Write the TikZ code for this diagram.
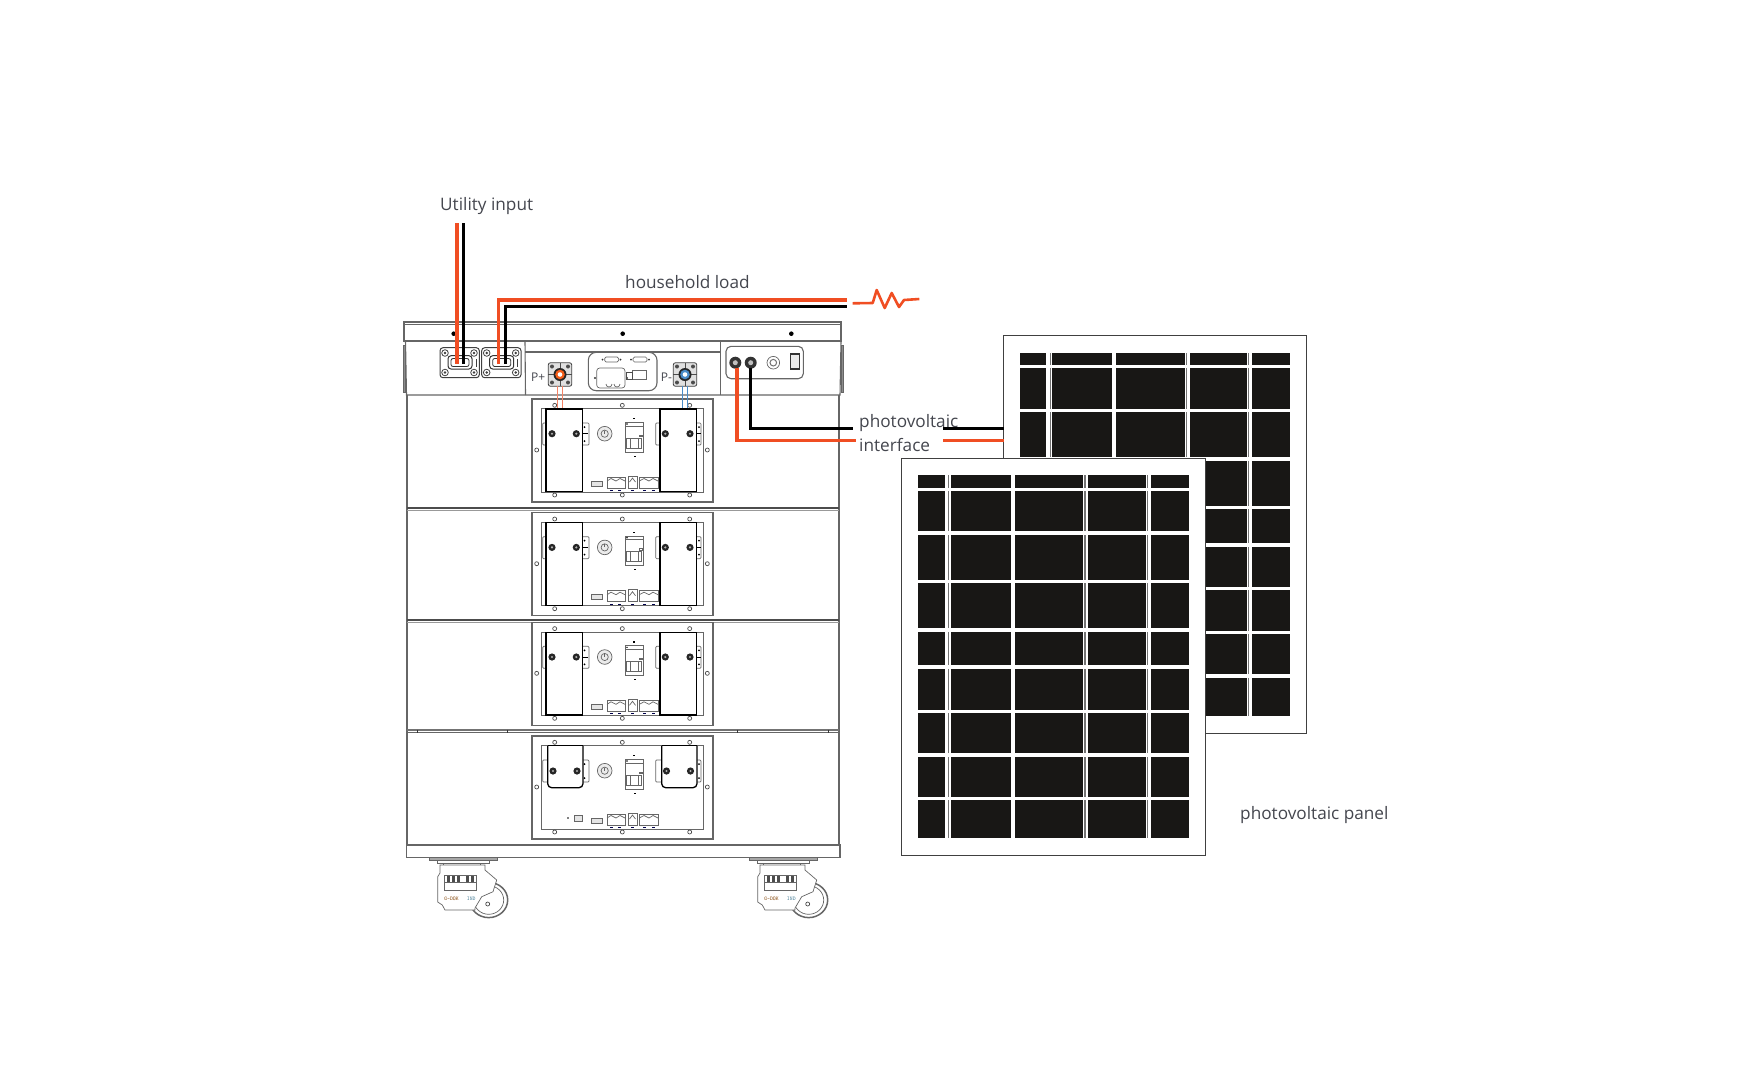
\documentclass[tikz,border=0pt]{standalone}
\usepackage{fontspec}
\setmainfont{Open Sans}
\definecolor{wirered}{HTML}{F04E23}
\definecolor{wireblue}{HTML}{4A8CC8}
\definecolor{linegray}{HTML}{666666}
\definecolor{cellblack}{HTML}{181715}
\definecolor{labcol}{HTML}{44464E}
\tikzset{
  lab/.style={anchor=base west,inner sep=0pt,text=labcol,font=\fontsize{17.2}{20}\selectfont},
  tiny lab/.style={anchor=base west,inner sep=0pt,text=#1,font=\ttfamily\fontsize{5.5}{6}\selectfont},
  hull/.style={draw=linegray,line width=1.1pt},
  fine/.style={draw=linegray,line width=0.7pt},
  handle/.style={draw=black,line width=1.3pt,fill=white},
  redwire/.style={draw=wirered,line width=3.2pt},
  blackwire/.style={draw=black,line width=3pt}
}
% screw ring
\newcommand{\ring}[2]{\draw[draw=black!70,line width=0.7pt,fill=white] (#1,#2) circle (2);}
\newcommand{\bolt}[2]{\fill[black!85] (#1,#2) circle (3.6); \fill[white!70!black] (#1,#2) circle (1.2);}
% plate of one battery module, #1 is its top edge
\newcommand{\moduleplate}[1]{
  \begin{scope}[shift={(0,#1)}]
    \draw[hull] (532,0) rectangle (713,103);
    \draw[fine] (541.5,9.7) rectangle (703,93);
    \foreach \xs in {554.7,622.3,689.7} {\ring{\xs}{6.3} \ring{\xs}{96}}
    \ring{536.7}{51} \ring{707.3}{51}
    \draw[fine,fill=white,rounded corners=1pt] (542.7,24) rectangle (589,46); \draw[fine,fill=white,rounded corners=1pt] (655.7,24) rectangle (701,46);
    \foreach \xs in {584.5,699} {\fill[black] (\xs,28) circle (1); \fill[black] (\xs,42) circle (1);}
    \draw[fine,fill=white!92!black] (604.7,34.7) circle (7.3); \draw[fine] (604.7,34.7) circle (3.6);
    \draw[fine] (604.7,31.5) -- (604.7,34.7);
    % breaker
    \draw[fine,fill=white] (625,23.3) rectangle (643.3,53);
    \draw[fine] (625,27) -- (643.3,27); \draw[fine] (626.5,39) -- (641.5,39) -- (641.5,49) -- (626.5,49) -- cycle; \draw[fine] (630,39) rectangle (638,49);
    \fill[black] (627,25) circle (0.8); \draw[fine] (639,36) rectangle (642,37.5);
    \fill[black] (632.5,19) rectangle (634.5,20.2); \fill[black] (633.5,56.5) rectangle (636,57.7);
    % ports
    \draw[fine,fill=black!10] (591.7,82) rectangle (602.7,87);
    \draw[fine] (607,78) rectangle (625,89); \draw[fine] (607,82) -- (611,79.5) -- (616,82) -- (620,79.5) -- (625,82);
    \draw[fine] (628,77) rectangle (637,89); \draw[fine] (629.5,83) -- (632.5,79) -- (635.5,83);
    \draw[fine] (639.3,78) rectangle (658,89); \draw[fine] (639.3,82) -- (644,79.5) -- (649,82) -- (653,79.5) -- (658,82);
    \foreach \xs in {611,619,632.5,644.5,653} {\fill[black!70!blue] (\xs-1.5,91) rectangle (\xs+1.5,92);}
  \end{scope}
}
\newcommand{\tallhandles}[1]{
  \begin{scope}[shift={(0,#1)}]
    \draw[handle] (546,10) rectangle (582.3,92.7); \draw[handle] (660,10) rectangle (696.3,92.7);
    \draw[black,line width=1pt] (582.3,34.7) -- (588,34.7); \draw[black,line width=1pt] (696.3,34.7) -- (701,34.7);
    \bolt{552}{34.7} \bolt{576.3}{34.7} \bolt{665.3}{34.7} \bolt{690}{34.7}
  \end{scope}
}
% panel of cells, #1 #2 is its top left corner
\newcommand{\pvpanel}[2]{
  \begin{scope}[shift={(#1,#2)}]
    \draw[fill=white,draw=black!75,line width=0.9pt] (0,0) rectangle (303.6,397.4);
    \foreach \ya/\yb in {16.9/29.7,32.8/73.3,76.7/121.7,125.2/170,173.5/207.4,210.9/251.7,254.6/295.4,298.6/338.7,342.2/380.2} {
      \foreach \xa/\xb in {16.7/43.3,49/109,113.3/181.7,186.7/244,249/287}
        \fill[cellblack] (\xa,\ya) rectangle (\xb,\yb);
      \foreach \xa/\xb in {46.7/47.7,182.5/184,245/246.2}
        \fill[black!55] (\xa,\ya) rectangle (\xb,\yb);
    }
  \end{scope}
}
% caster, #1 is the shift along x
\newcommand{\caster}[1]{
  \begin{scope}[shift={(#1,0)}]
    \draw[fine,fill=black!35] (429,857.7) rectangle (497.7,860.5);
    \draw[fine] (437.3,860.5) -- (437.3,863) -- (489.3,863) -- (489.3,860.5);
    \draw[fine] (443,863) -- (443,868); \draw[fine] (480,863) -- (480,868);
    \draw[fill=white,draw=black!60,line width=1.5pt] (488.7,900) ellipse (19 and 17.6);
    \draw[fine] (488.7,900) ellipse (15 and 14.3);
    \draw[fine,fill=white] (437.7,876.7) -- (440,873) -- (440,865) -- (485,865) -- (485,870) -- (496.7,880) -- (493,891.7) -- (481.7,896.7) -- (475,908) -- (475,910) -- (445,910) -- (442.3,905) -- (437.7,902) -- cycle;
    \ring{487.7}{904}
    \draw[linegray,line width=1pt,fill=white] (444.3,875) rectangle (476.7,890);
    \draw[fine] (444.3,882.5) -- (476.7,882.5);
    \foreach \xs in {447,452,457,466,471} {\fill[black!70] (\xs,876) rectangle (\xs+3,882);}
    \node[tiny lab=black!50!orange] (gdok#1) at (444,900.5) {G-DOK};
    \node[tiny lab=black!45!cyan] (ind#1) at (466.7,900.5) {IND};
  \end{scope}
}
\newcommand{\acplug}[1]{
  \begin{scope}[shift={(#1,0)}]
    \draw[draw=black!75,line width=1pt,rounded corners=3pt,fill=white] (0,347.7) rectangle (39.3,377.7);
    \foreach \xs/\ys in {5/353,34/353,5/372.5,34/372.5} {\draw[draw=black!75,line width=0.8pt] (\xs,\ys) circle (3.3); \fill[black!75] (\xs,\ys) circle (1.4);}
    \draw[draw=black!80,line width=1pt,rounded corners=3pt] (8,355.7) rectangle (32,369);
    \draw[draw=black!80,line width=0.8pt,rounded corners=2pt] (11,358.5) rectangle (29,366.5);
    \draw[draw=black!75,line width=1pt] (36,359) -- (36,367);
  \end{scope}
}
\newcommand{\pplug}[2]{
  \begin{scope}[shift={(#1,374.5)}]
    \draw[draw=black!75,line width=0.8pt,rounded corners=2pt,fill=black!12] (-11.7,-11.7) rectangle (11.7,11.7);
    \foreach \xs/\ys in {-8/-8,8/-8,-8/8,8/8} {\fill[black!70] (\xs,\ys) circle (2);}
    \draw[draw=black!70,line width=0.8pt] (-11.7,0) -- (11.7,0); \draw[draw=black!70,line width=0.8pt] (0,-11.7) -- (0,11.7);
    \fill[black!85] (0,0) circle (6.5); \fill[#2] (0,0) circle (4.8); \fill[white] (0,0) circle (2.3);
  \end{scope}
}
\begin{document}
\begin{tikzpicture}[x=1pt,y=-1pt]
  \useasboundingbox (0,0) rectangle (1764,1080);

  % Cabinet
  \draw[fine,fill=black!45] (403,345) -- (405.5,345) -- (405.5,392) -- (403,392) -- cycle;
  \draw[fine,fill=black!45] (841,345) -- (843.5,345) -- (843.5,392) -- (841,392) -- cycle;
  \draw[hull] (404,322) rectangle (841,341);
  \draw[hull] (404,324.5) -- (841,324.5);
  \draw[hull] (405.5,341) -- (406.5,395) -- (840,395) -- (841,341);
  \draw[hull] (525,341) -- (525.5,395); \draw[hull] (720.3,341) -- (720.3,395);
  \draw[hull] (525,352) -- (720.3,352);
  \foreach \xs in {453.7,622.7,791.3} {\fill[black] (\xs,333.7) circle (2.3);}
  \draw[hull] (407,395) -- (407,845); \draw[hull] (839,395) -- (839,845);
  \foreach \ys in {508,620} {\draw[draw=black!70,line width=1.6pt] (407,\ys) -- (839,\ys); \draw[fine,draw=black!40] (407,\ys+2) -- (839,\ys+2);}
  \draw[draw=black!55,line width=1.3pt] (407,730) -- (839,730); \draw[fine] (407,732.5) -- (839,732.5);
  \foreach \xs in {417,507.5,737,828} {\draw[draw=black!80,line width=0.8pt] (\xs,729.5) -- (\xs,732.5);}
  \draw[linegray,line width=2.2pt] (407,845) -- (839,845);
  \draw[hull] (406.5,845) rectangle (840,857.5);

  % Front of controller
  \acplug{440} \acplug{481.7}
  \pplug{560}{wirered!70!orange} \pplug{685}{wireblue}
  \node[lab,font=\fontsize{12}{14}\selectfont] (pplus) at (531,381) {P+};
  \node[lab,font=\fontsize{12}{14}\selectfont] (pminus) at (660.7,381) {P-};
  \draw[hull,rounded corners=8pt] (588.3,352.3) rectangle (657,390.7);
  \draw[fine,rounded corners=1.5pt] (604.7,357) rectangle (618.7,362); \draw[fine,rounded corners=1.5pt] (633,357) rectangle (647,362);
  \foreach \xs in {602.5,620.5,631,649} {\fill[black!80] (\xs,359.5) circle (1);}
  \draw[fine,rounded corners=3pt] (596.7,368) rectangle (625,388);
  \foreach \xs in {595,627} {\fill[black!80] (\xs,378) circle (1.2);}
  \draw[fine] (606,384) arc[start angle=180,end angle=0,radius=3]; \draw[fine] (614,384) arc[start angle=180,end angle=0,radius=3];
  \draw[fine,fill=white] (632,370) rectangle (646.7,379); \draw[draw=black!70,line width=0.9pt] (626.7,372) rectangle (632,379);
  \draw[hull,rounded corners=5pt] (726,346.3) rectangle (803.3,378.7);
  \foreach \xs in {735.3,750.7} {\fill[black!80] (\xs,362.7) circle (6); \fill[white!75!black] (\xs,362.7) circle (2.5);}
  \draw[fine,fill=white] (773.3,362.7) circle (6.3); \draw[draw=black!55,line width=1pt] (773.3,362.7) circle (3.3);
  \draw[draw=black!80,line width=1.2pt,fill=black!8] (790.7,354) rectangle (799.3,369);

  % Battery modules
  \foreach \ytop in {399,512.7,622.3} {\moduleplate{\ytop} \tallhandles{\ytop}}
  \moduleplate{736}
  \begin{scope}[shift={(0,736)}]
    \draw[handle,rounded corners=4pt] (547.7,9.7) |- (583,51.7) -- (583,9.7);
    \draw[handle,rounded corners=4pt] (661.7,9.7) |- (697,51.7) -- (697,9.7);
    \draw[black,line width=1.3pt] (547.7,9.7) -- (583,9.7); \draw[black,line width=1.3pt] (661.7,9.7) -- (697,9.7);
    \bolt{553}{35} \bolt{577}{35} \bolt{666.5}{35} \bolt{690.5}{35}
    \draw[fine,fill=black!10] (574,79.5) rectangle (582,85.5); \fill[black] (568,82) circle (0.8);
  \end{scope}
  \caster{0} \caster{320}

  % Wires
  \coordinate (utilred) at (457,223); \coordinate (utilredend) at (457,364);
  \coordinate (utilblack) at (463,223); \coordinate (utilblackend) at (463,364);
  \coordinate (loadredin) at (498.7,364); \coordinate (loadredout) at (847,300);
  \coordinate (loadblackin) at (505,364); \coordinate (loadblackout) at (847,306);
  \coordinate (pvredin) at (737,368); \coordinate (pvredout) at (855.7,440.5);
  \coordinate (pvblackin) at (750.3,368); \coordinate (pvblackout) at (852.7,428.6);
  \draw[redwire] (utilred) -- (utilredend);
  \draw[blackwire] (utilblack) -- (utilblackend);
  \draw[redwire] (loadredin) |- (loadredout);
  \draw[blackwire] (loadblackin) |- (loadblackout);
  \draw[redwire] (pvredin) |- (pvredout);
  \draw[blackwire] (pvblackin) |- (pvblackout);
  \coordinate (pluga) at (557.7,386); \coordinate (pluga2) at (557.7,408);
  \coordinate (plugb) at (562.7,386); \coordinate (plugb2) at (562.7,408);
  \coordinate (plugc) at (682.7,386); \coordinate (plugc2) at (682.7,408);
  \coordinate (plugd) at (687,386); \coordinate (plugd2) at (687,408);
  \draw[wirered!70!white,line width=1pt] (pluga) -- (pluga2); \draw[wirered!70!white,line width=1pt] (plugb) -- (plugb2);
  \draw[wireblue,line width=1pt] (plugc) -- (plugc2); \draw[wireblue,line width=1pt] (plugd) -- (plugd2);

  % Load symbol
  \draw[wirered,line width=2.6pt,line join=round] (852.7,303.3) -- (872.7,303) -- (876.7,290) -- (884.7,308) -- (891.7,293) -- (899,307) -- (904,300) -- (919.3,299);

  % Panels
  \pvpanel{1003}{335.6}
  \coordinate (panelblacka) at (943.3,428.6); \coordinate (panelblackb) at (1004.3,428.6);
  \coordinate (panelreda) at (943.3,440.5); \coordinate (panelredb) at (1004.3,440.5);
  \node[lab] (pvline) at (859,427.5) {photovoltaic};
  \node[lab] (pvif) at (859,451.7) {interface};
  \draw[black,line width=2.6pt] (panelblacka) -- (panelblackb);
  \draw[wirered,line width=2.6pt] (panelreda) -- (panelredb);
  \pvpanel{901.7}{458}

  % Texts
  \node[lab] (utility) at (440,210.7) {Utility input};
  \node[lab] (household) at (625,288) {household load};
  \node[lab] (panel) at (1240,819.3) {photovoltaic panel};
\end{tikzpicture}
\end{document}
